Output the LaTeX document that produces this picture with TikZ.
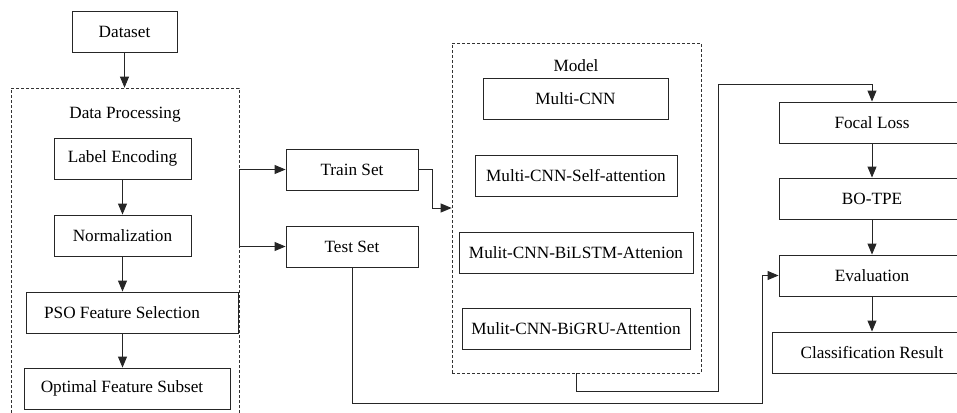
\documentclass[tikz,border=0pt]{standalone}
\usepackage{fontspec}
\setmainfont{Liberation Serif}
\usetikzlibrary{arrows.meta}
\begin{document}
\begin{tikzpicture}[x=1pt,y=-1pt,
  box/.style={draw=black!85,line width=0.9pt,minimum height=41pt,inner sep=0pt,
    font=\fontsize{17.2}{20}\selectfont},
  group/.style={draw=black!80,line width=0.7pt,dash pattern=on 3pt off 2pt,inner sep=0pt},
  flow/.style={draw=black!85,line width=0.9pt,-{Triangle[length=11pt,width=9pt]}},
  link/.style={draw=black!85,line width=0.9pt},
  lbl/.style={font=\fontsize{17.2}{20}\selectfont}]
\useasboundingbox (0,0) rectangle (957,412);
\clip (0,0) rectangle (957,412);

% input
\node[box,minimum width=105pt] (dataset) at (124.5,32) {Dataset};

% data processing group
\node[group,minimum width=228pt,minimum height=352pt] (dp) at (125,264) {};
\node[lbl] (dplabel) at (125,115) {Data Processing};
\node[box,minimum width=137pt] (labelenc) at (122.5,158.5) {Label Encoding};
\node[box,minimum width=137pt] (norm) at (122.5,235.5) {Normalization};
% these two boxes sit off-centre from their labels
\node[box,minimum width=212pt] (pso) at (132,312.5) {\hspace*{-20pt}PSO Feature Selection};
\node[box,minimum width=206pt] (opt) at (127,388.5) {\hspace*{-10pt}Optimal Feature Subset};

% split
\node[box,minimum width=132pt] (train) at (352,169.5) {Train Set};
\node[box,minimum width=132pt] (test) at (352,246.5) {Test Set};

% model group
\node[group,minimum width=249pt,minimum height=330pt] (model) at (576.5,208) {};
\node[lbl] (modellabel) at (576,66) {Model};
\node[box,minimum width=185pt] (mcnn) at (575.5,98.5) {Multi-CNN};
\node[box,minimum width=202pt] (mself) at (576,175.5) {Multi-CNN-Self-attention};
\node[box,minimum width=234pt] (mlstm) at (576,252.5) {Mulit-CNN-BiLSTM-Attenion};
\node[box,minimum width=228pt] (mgru) at (576,328.5) {Mulit-CNN-BiGRU-Attention};

% training and evaluation
\node[box,minimum width=186pt] (focal) at (872,122.5) {Focal Loss};
\node[box,minimum width=186pt] (botpe) at (872,198.5) {BO-TPE};
\node[box,minimum width=186pt] (eval) at (872,275.5) {Evaluation};
\node[box,minimum width=200pt] (cls) at (872,352.5) {Classification Result};

% connectors
\draw[flow] (dataset.south) -- (dataset.south |- dp.north);
\draw[flow] (labelenc.south) -- (norm.north);
\draw[flow] (norm.south) -- (norm.south |- pso.north);
\draw[flow] (norm.south |- pso.south) -- (norm.south |- opt.north);

\coordinate (tr) at (dp.east |- train.west);
\coordinate (te) at (dp.east |- test.west);
\draw[link] (tr) -- (te);
\draw[flow] (tr) -- (train.west);
\draw[flow] (te) -- (test.west);

\draw[flow] (train.east) -- ++(14,0) |- (model.west);

\coordinate (bend) at (718,84);
\draw[flow] (model.south) -- ++(0,18) -| (bend) -| (focal.north);

\coordinate (lowR) at (762,403);
\draw[flow] (test.south) |- (lowR) |- (eval.west);

\draw[flow] (focal.south) -- (botpe.north);
\draw[flow] (botpe.south) -- (eval.north);
\draw[flow] (eval.south) -- (cls.north);
\end{tikzpicture}
\end{document}
